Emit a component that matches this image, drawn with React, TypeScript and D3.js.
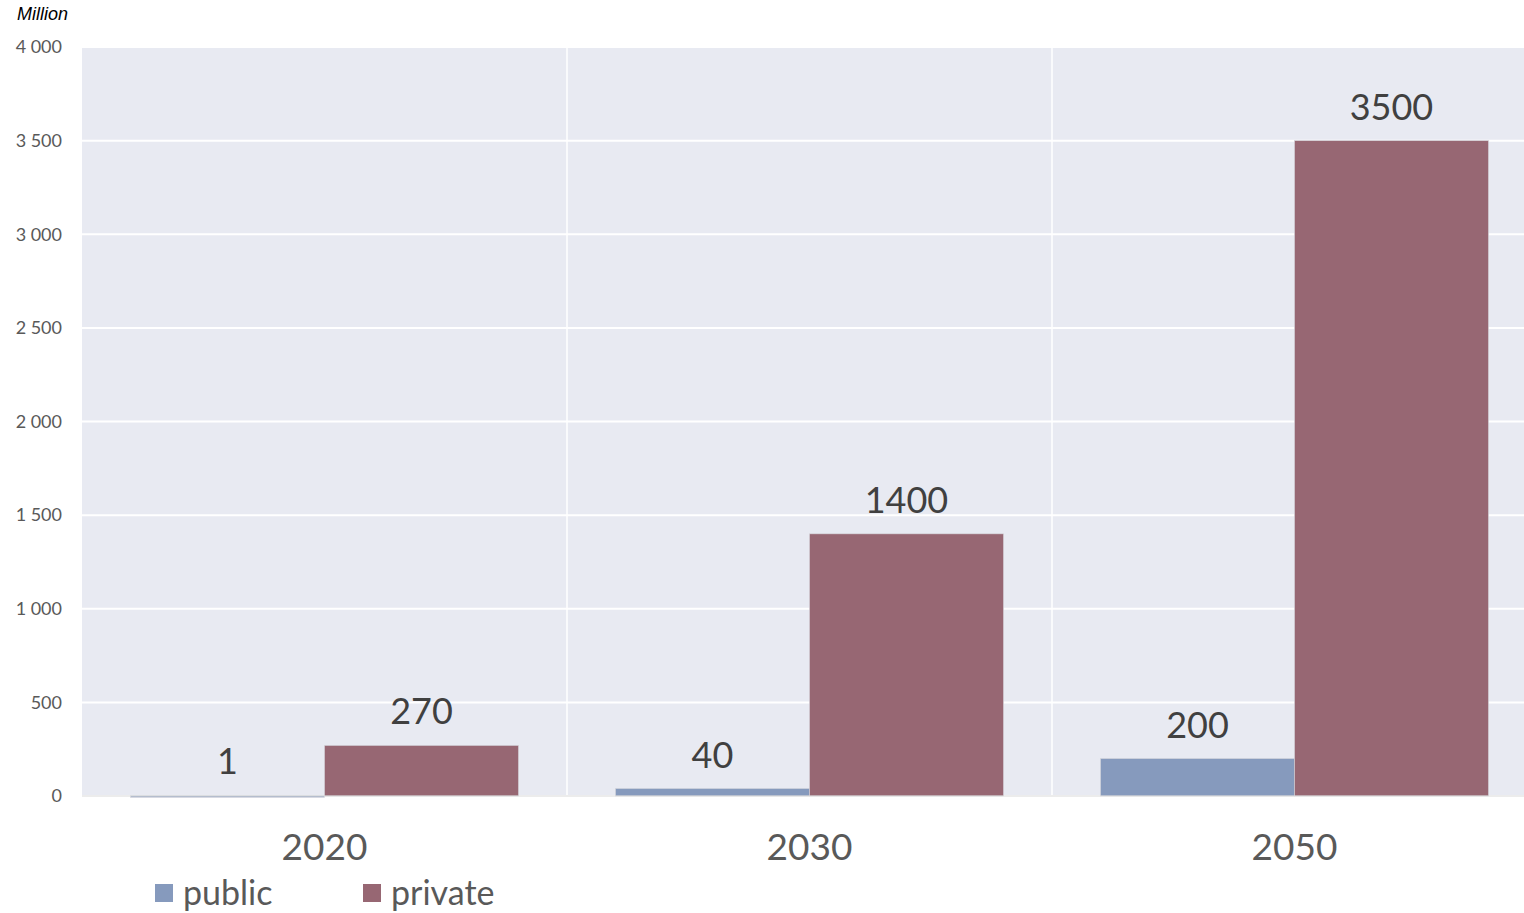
import React from "react";
import * as d3 from "d3";

// Projected counts, in millions
const years = ["2020", "2030", "2050"];
const publicValues = [1, 40, 200];
const privateValues = [270, 1400, 3500];
const seriesNames = ["public", "private"];
const seriesColors = ["#869ABD", "#976773"];
const yTicks = [0, 500, 1000, 1500, 2000, 2500, 3000, 3500, 4000];

const W = 1524;
const H = 913;
const margin = { left: 82, right: -13, top: 47, bottom: 117 };

const fmt = (v: number) => d3.format(",")(v).replace(/,/g, " ");

export default function App() {
  const x0 = d3
    .scaleBand<string>()
    .domain(years)
    .range([margin.left, W - margin.right])
    .paddingInner(0)
    .paddingOuter(0);
  const x1 = d3
    .scaleBand<string>()
    .domain(seriesNames)
    .range([0, x0.bandwidth()])
    .paddingOuter(0.25)
    .paddingInner(0);
  const y = d3.scaleLinear().domain([0, 4000]).range([H - margin.bottom, margin.top]);

  const series = [publicValues, privateValues];
  const font = "Lato, 'Open Sans', sans-serif";

  return (
    <svg
      width={W}
      height={H}
      style={{ position: "absolute", left: 0, top: 0, background: "#fff" }}
    >
      <rect
        x={margin.left}
        y={y(4000)}
        width={W - margin.left}
        height={y(0) - y(4000)}
        fill="#E8EAF2"
      />
      {yTicks.map((t) => (
        <g key={t}>
          <line
            x1={margin.left}
            x2={W}
            y1={y(t)}
            y2={y(t)}
            stroke="#fff"
            strokeWidth={2}
          />
          <text
            x={62}
            y={y(t)}
            dy="0.35em"
            textAnchor="end"
            fontFamily={font}
            fontSize={18}
            fill="#595959"
          >
            {fmt(t)}
          </text>
        </g>
      ))}
      {years.slice(1).map((yr) => (
        <line
          key={yr}
          x1={x0(yr)!}
          x2={x0(yr)!}
          y1={y(4000)}
          y2={y(0)}
          stroke="#fff"
          strokeWidth={1.5}
        />
      ))}
      {years.map((yr, i) => (
        <g key={yr}>
          {series.map((vals, s) => {
            const bx = x0(yr)! + x1(seriesNames[s])!;
            const by = y(vals[i]);
            return (
              <g key={s}>
                <rect
                  x={bx}
                  y={by}
                  width={x1.bandwidth()}
                  height={Math.max(y(0) - by, 1.5)}
                  fill={seriesColors[s]}
                  stroke="#D5D6DC"
                  strokeWidth={0.6}
                />
                <text
                  x={bx + x1.bandwidth() / 2}
                  y={Math.min(by, y(0) - 1.5) - 21}
                  textAnchor="middle"
                  fontFamily={font}
                  fontSize={36}
                  fill="#404040"
                >
                  {vals[i]}
                </text>
              </g>
            );
          })}
          <text
            x={x0(yr)! + x0.bandwidth() / 2}
            y={860}
            textAnchor="middle"
            fontFamily={font}
            fontSize={37}
            fill="#595959"
          >
            {yr}
          </text>
        </g>
      ))}
      <line x1={margin.left} x2={W} y1={y(0)} y2={y(0)} stroke="#D9D9D9" strokeWidth={1} />
      <text
        x={17}
        y={20}
        fontFamily="'Liberation Sans Narrow', 'Arial Narrow', sans-serif"
        fontStyle="italic"
        fontSize={18}
        fill="#000"
      >
        Million
      </text>
      {seriesNames.map((n, s) => (
        <g key={n} transform={`translate(${155 + s * 208},884)`}>
          <rect width={18} height={18} fill={seriesColors[s]} />
          <text x={28} y={21} fontFamily={font} fontSize={34} fill="#595959">
            {n}
          </text>
        </g>
      ))}
    </svg>
  );
}
